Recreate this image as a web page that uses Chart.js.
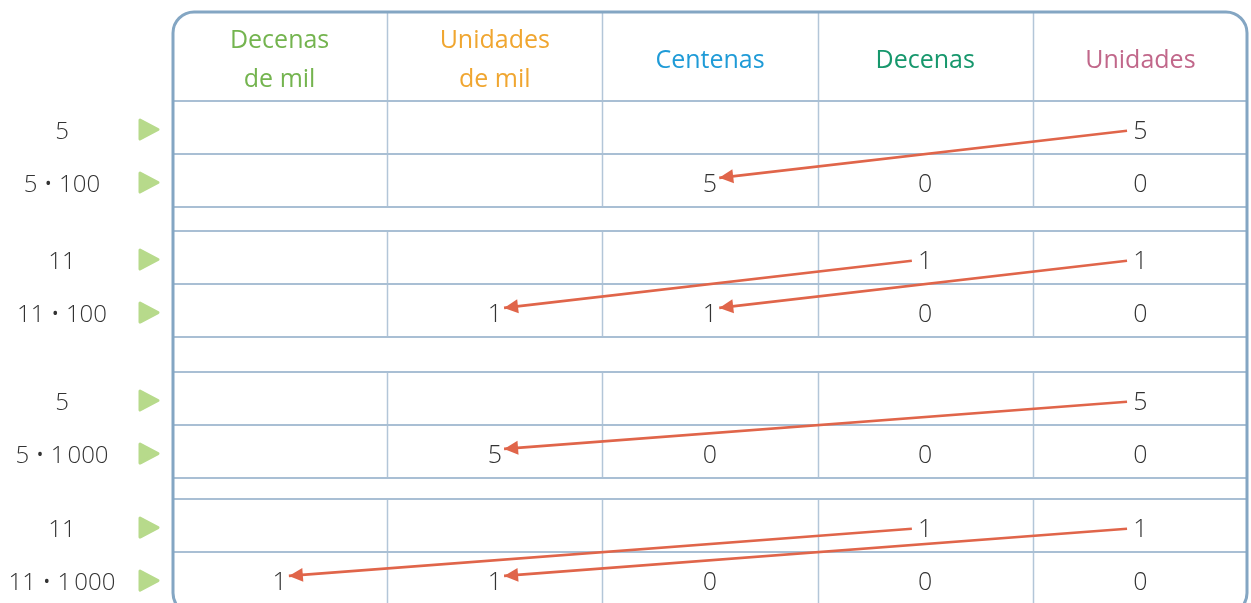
<!DOCTYPE html>
<html>
<head>
<meta charset="utf-8">
<script src="https://cdn.jsdelivr.net/npm/chart.js@4"></script>
<style>
  html, body { margin: 0; padding: 0; background: #ffffff; }
  #wrap { width: 1251px; height: 603px; position: relative; }
</style>
</head>
<body>
<div id="wrap"><canvas id="c"></canvas></div>
<script>
// ---------- DATA ----------
const columnHeaders = [["Decenas", "de mil"], ["Unidades", "de mil"], ["Centenas"], ["Decenas"], ["Unidades"]];
const rowLabels = ["5", "5 \u2022 100", "11", "11 \u2022 100", "5", "5 \u2022 1\u202F000", "11", "11 \u2022 1\u202F000"];
const row1 = ["", "", "", "", "5"];
const row2 = ["", "", "5", "0", "0"];
const row3 = ["", "", "", "1", "1"];
const row4 = ["", "1", "1", "0", "0"];
const row5 = ["", "", "", "", "5"];
const row6 = ["", "5", "0", "0", "0"];
const row7 = ["", "", "", "1", "1"];
const row8 = ["1", "1", "0", "0", "0"];
const digitRows = [row1, row2, row3, row4, row5, row6, row7, row8];
// arrows: [fromRow, fromColumn, toRow, toColumn]
const arrowsFrom = [[0, 4], [2, 3], [2, 4], [4, 4], [6, 3], [6, 4]];
const arrowsTo   = [[1, 2], [3, 1], [3, 2], [5, 1], [7, 0], [7, 1]];

// ---------- LAYOUT / STYLE ----------
const headerColors = ["#74b44f", "#f0a630", "#1f9bd7", "#16976c", "#c1678a"];
const groupGap = [0, 0.453, 1.113, 1.509];   // cumulative gaps (row units) before each group of two rows
const HEADER_H = 1.698;                       // header height in row units
const Y_MAX = 9.47;
const FONT = "'Open Sans', 'Noto Sans', sans-serif";
const ARROW_COLOR = "#e0654a";

function rowTop(i) { const g = Math.floor(i / 2); return i + groupGap[g]; }
function rowMid(i) { return rowTop(i) + 0.5; }
const startDX = -0.062, endDX = 0.043, startDY = 0.06, endDY = -0.05;

const arrowDatasets = arrowsFrom.map((f, k) => {
  const t = arrowsTo[k];
  return {
    type: 'line',
    data: [
      { x: f[1] + 0.5 + startDX, y: rowMid(f[0]) + startDY },
      { x: t[1] + 0.5 + endDX, y: rowMid(t[0]) + endDY }
    ],
    borderColor: ARROW_COLOR,
    borderWidth: 2.6,
    pointRadius: 0,
    fill: false,
    tension: 0,
    clip: false
  };
});

const tablePlugin = {
  id: 'placeValueTable',
  beforeDatasetsDraw(chart) {
    const { ctx, chartArea: a, scales: { x, y } } = chart;
    ctx.save();
    const L = a.left, R = a.right;
    const topPx = y.getPixelForValue(-HEADER_H);
    // header vertical lines
    ctx.strokeStyle = "#b3c6d8";
    ctx.lineWidth = 1.5;
    for (let c = 1; c < 5; c++) {
      const px = Math.round(x.getPixelForValue(c)) + 0.5;
      ctx.beginPath(); ctx.moveTo(px, topPx); ctx.lineTo(px, y.getPixelForValue(0)); ctx.stroke();
    }
    // group vertical lines
    for (let g = 0; g < 4; g++) {
      const t = y.getPixelForValue(rowTop(g * 2)), b = y.getPixelForValue(rowTop(g * 2) + 2);
      for (let c = 1; c < 5; c++) {
        const px = Math.round(x.getPixelForValue(c)) + 0.5;
        ctx.beginPath(); ctx.moveTo(px, t); ctx.lineTo(px, b); ctx.stroke();
      }
    }
    // horizontal lines
    ctx.strokeStyle = "#a9bfd4";
    ctx.lineWidth = 2;
    const hl = new Set();
    for (let i = 0; i < 8; i++) { hl.add(rowTop(i)); hl.add(rowTop(i) + 1); }
    hl.forEach(v => {
      if (v > 9.2) return;
      const py = Math.round(y.getPixelForValue(v));
      ctx.beginPath(); ctx.moveTo(L, py); ctx.lineTo(R, py); ctx.stroke();
    });
    // headers
    ctx.textAlign = 'center';
    ctx.textBaseline = 'middle';
    ctx.font = "25px " + FONT;
    const hMid = y.getPixelForValue(-HEADER_H / 2) + 4.5;
    columnHeaders.forEach((lines, c) => {
      ctx.fillStyle = headerColors[c];
      const cx = x.getPixelForValue(c + 0.5);
      lines.forEach((s, j) => {
        const off = (j - (lines.length - 1) / 2) * 39;
        ctx.fillText(s, cx, hMid + off);
      });
    });
    // row labels + green triangles
    ctx.font = "300 24px " + FONT;
    rowLabels.forEach((s, i) => {
      const py = y.getPixelForValue(rowMid(i)) + 2;
      ctx.fillStyle = "#333333";
      ctx.fillText(s, L - 110, py + 3);
      ctx.fillStyle = "#b7da8b";
      ctx.strokeStyle = "#b7da8b";
      ctx.lineJoin = 'round';
      ctx.lineWidth = 3;
      ctx.beginPath();
      ctx.moveTo(L - 32, py - 9.5);
      ctx.lineTo(L - 14, py);
      ctx.lineTo(L - 32, py + 9.5);
      ctx.closePath();
      ctx.fill(); ctx.stroke();
    });
    // digits
    ctx.fillStyle = "#333333";
    ctx.font = "300 25px " + FONT;
    digitRows.forEach((row, i) => {
      const py = y.getPixelForValue(rowMid(i)) + 4;
      row.forEach((d, c) => {
        if (d !== "") ctx.fillText(d, x.getPixelForValue(c + 0.5), py);
      });
    });
    ctx.restore();
  },
  afterDatasetsDraw(chart) {
    const { ctx, chartArea: a, scales: { x, y } } = chart;
    ctx.save();
    // arrow heads
    chart.data.datasets.forEach(ds => {
      const p0 = ds.data[0], p1 = ds.data[1];
      const x0 = x.getPixelForValue(p0.x), y0 = y.getPixelForValue(p0.y);
      const x1 = x.getPixelForValue(p1.x), y1 = y.getPixelForValue(p1.y);
      const ang = Math.atan2(y1 - y0, x1 - x0);
      const len = 14, hw = 7;
      ctx.fillStyle = ARROW_COLOR;
      ctx.beginPath();
      ctx.moveTo(x1, y1);
      ctx.lineTo(x1 - len * Math.cos(ang) + hw * Math.sin(ang), y1 - len * Math.sin(ang) - hw * Math.cos(ang));
      ctx.lineTo(x1 - len * Math.cos(ang) - hw * Math.sin(ang), y1 - len * Math.sin(ang) + hw * Math.cos(ang));
      ctx.closePath();
      ctx.fill();
    });
    // frame
    const L = a.left + 1, R = a.right - 1;
    const T = y.getPixelForValue(-HEADER_H) + 1;
    const B = y.getPixelForValue(rowTop(7) + 1) + 9;
    const r = 21;
    ctx.strokeStyle = "#84a6c3";
    ctx.lineWidth = 3;
    ctx.beginPath();
    ctx.moveTo(L + r, T);
    ctx.lineTo(R - r, T);
    ctx.arcTo(R, T, R, T + r, r);
    ctx.lineTo(R, B - r);
    ctx.arcTo(R, B, R - r, B, r);
    ctx.lineTo(L + r, B);
    ctx.arcTo(L, B, L, B - r, r);
    ctx.lineTo(L, T + r);
    ctx.arcTo(L, T, L + r, T, r);
    ctx.closePath();
    ctx.stroke();
    ctx.restore();
  }
};

new Chart(document.getElementById('c'), {
  type: 'line',
  data: { datasets: arrowDatasets },
  options: {
    responsive: true,
    maintainAspectRatio: false,
    animation: false,
    layout: { padding: { left: 172, top: 11, right: 3, bottom: 0 } },
    plugins: { legend: { display: false }, tooltip: { enabled: false } },
    events: [],
    scales: {
      x: { type: 'linear', min: 0, max: 5, display: false },
      y: { type: 'linear', min: -HEADER_H, max: Y_MAX, reverse: true, display: false }
    }
  },
  plugins: [tablePlugin]
});
</script>
</body>
</html>
